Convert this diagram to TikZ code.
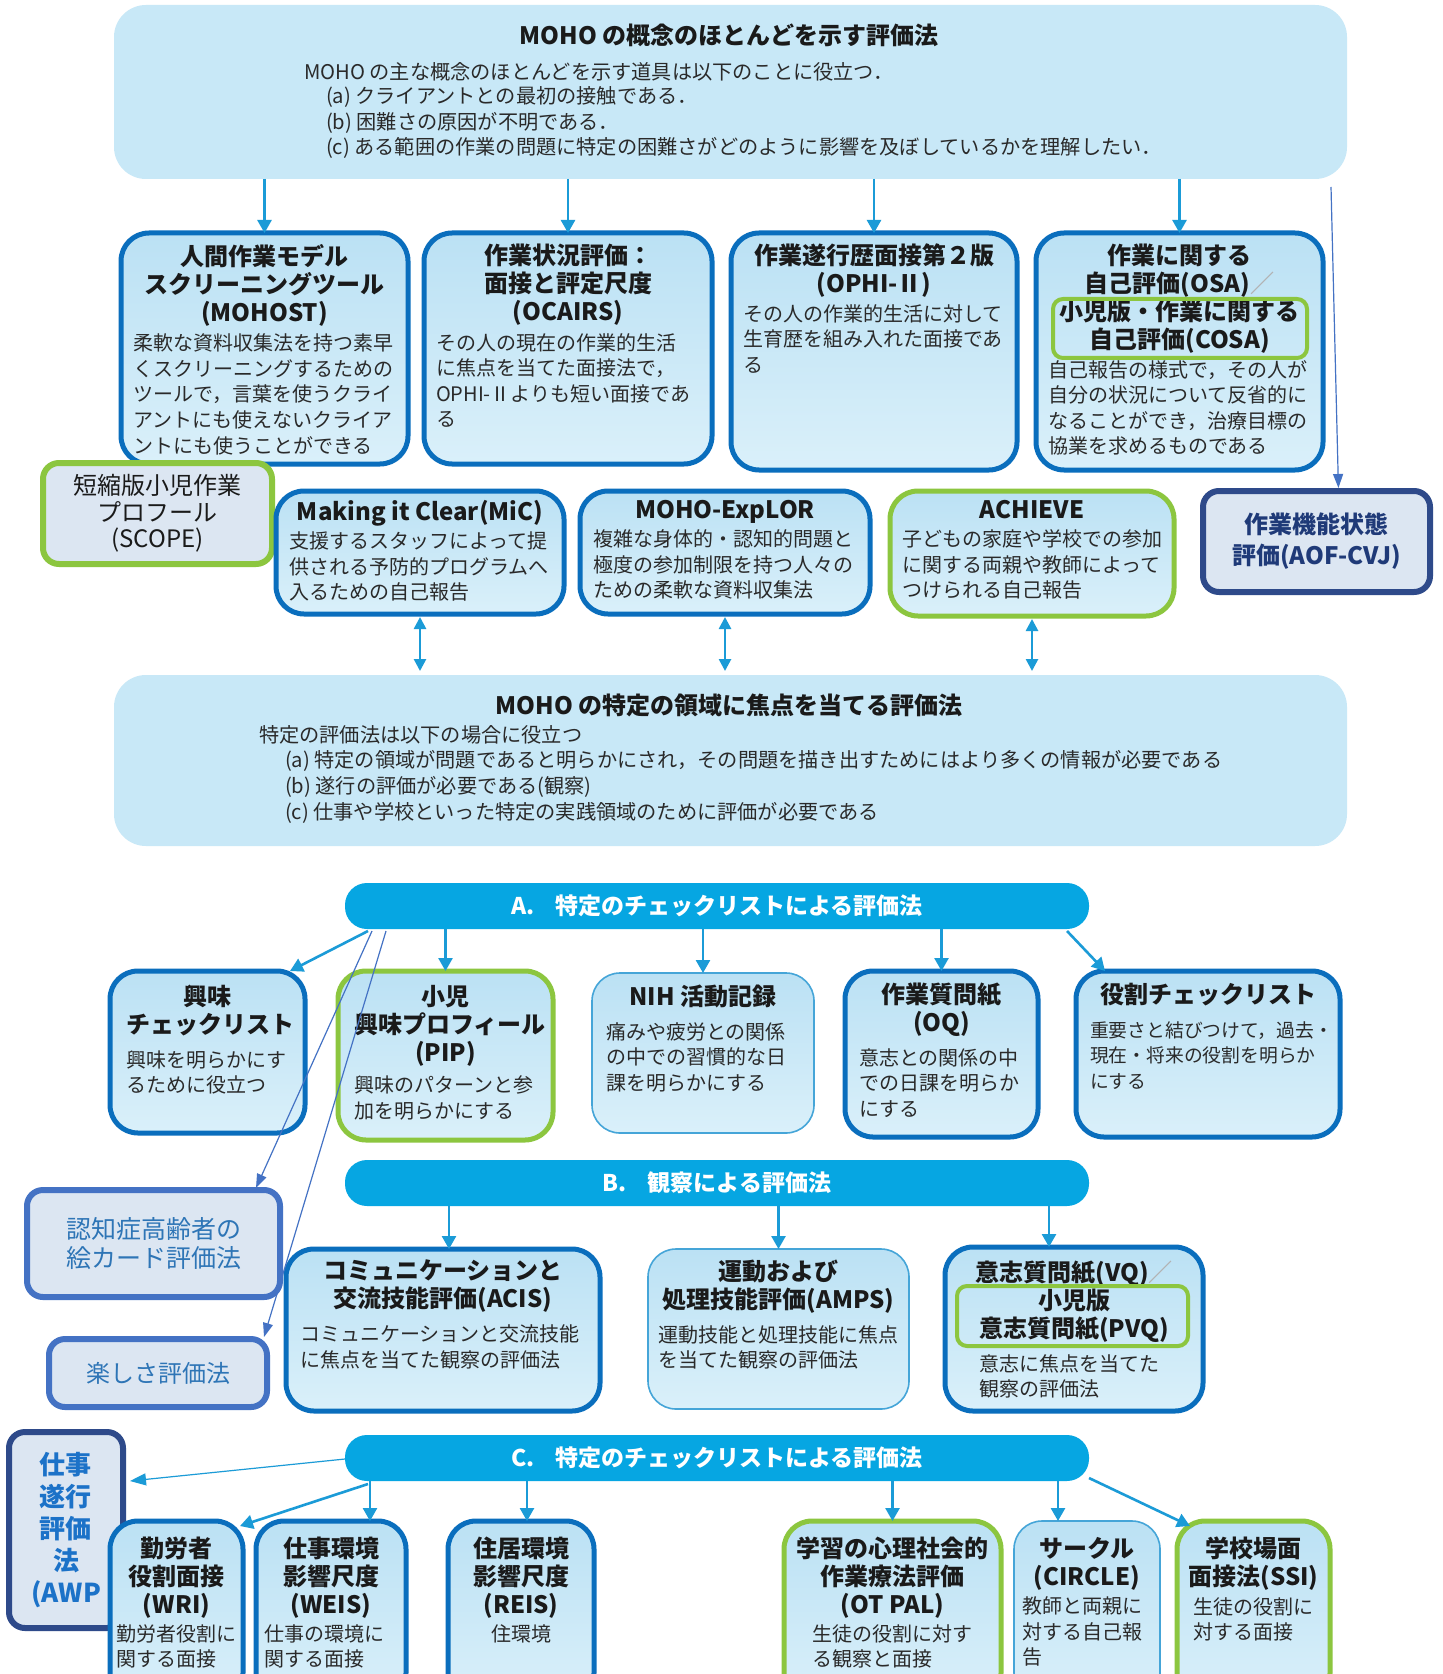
\documentclass[tikz,border=0pt]{standalone}
\usepackage{fontspec}
\setmainfont{Noto Sans CJK JP}
\usetikzlibrary{arrows.meta,calc}
\setlength\parskip{0pt}
\newlength\pxu \setlength\pxu{0.5pt}
\definecolor{boxblue}{HTML}{0A6EBD}
\definecolor{boxgreen}{HTML}{8CC63F}
\definecolor{notefill}{HTML}{DCE6F2}
\definecolor{navy}{HTML}{2E4A8A}
\definecolor{navytxt}{HTML}{1F3A78}
\definecolor{midblue}{HTML}{4472C4}
\definecolor{midtxt}{HTML}{2E75B6}
\definecolor{awptxt}{HTML}{1C72C8}
\definecolor{bigfill}{HTML}{C8E8F7}
\definecolor{bandfill}{HTML}{06A6E2}
\definecolor{arrc}{HTML}{1B9BD7}
\definecolor{boxtop}{HTML}{BBE1F4}
\definecolor{boxbot}{HTML}{DAF0FA}
\definecolor{thinb}{HTML}{45A5D8}
\definecolor{txt}{HTML}{1A1A1A}
\definecolor{btxt}{HTML}{2A2A2A}
\newcommand\cbox[5]{%
\begin{minipage}[t][#2\pxu][t]{#1\pxu}%
\vspace*{#4\pxu}%
\hspace*{#3\pxu}\begin{minipage}[t]{\dimexpr\numexpr#1-2*#3\relax\pxu\relax}#5\end{minipage}%
\end{minipage}}
\newcommand\Ttl[1]{{\centering\fontsize{12}{14}\bfseries\color{txt}#1\par}}
\newcommand\Bdy[2][2pt]{\vspace{#1}{\fontsize{10}{12.8}\selectfont\color{btxt}#2\par}}
\newcommand\bodyfont{\fontsize{10.1}{12}\selectfont}
\newcommand\sla{\textcolor{gray!60}{／}}
\tikzset{
 every node/.style={inner sep=0pt, outer sep=0pt},
 cbx/.style={anchor=north west, top color=boxtop, bottom color=boxbot, rounded corners=14pt},
 bluebx/.style={cbx, draw=boxblue, line width=2.5pt},
 greenbx/.style={cbx, draw=boxgreen, line width=2.5pt},
 thinbx/.style={cbx, draw=thinb, line width=0.8pt},
 note/.style={fill=notefill, rounded corners=8pt, line width=3pt, align=center, text=txt},
 bigbox/.style={fill=bigfill, rounded corners=16pt, anchor=north west},
 band/.style={fill=bandfill, rounded corners=11pt, anchor=north west, text=white, font=\fontsize{11.5}{13}\bfseries, minimum width=744\pxu, minimum height=46\pxu},
 arr/.style={draw=arrc, line width=1.3pt, -{Triangle[width=7pt,length=6.5pt]}},
 darr/.style={draw=arrc, line width=1.3pt, {Triangle[width=6pt,length=6pt]}-{Triangle[width=6pt,length=6pt]}, shorten <=1.5pt, shorten >=2pt},
 thinarr/.style={draw=midblue, line width=0.6pt, -{Triangle[width=5pt,length=7pt]}},
 innergreen/.style={draw=boxgreen, line width=2pt, rounded corners=5pt, anchor=north west},
 toptext/.style={anchor=west, font=\bodyfont, text=btxt},
 headtext/.style={font=\fontsize{12}{14}\bfseries, text=txt},
}
\begin{document}
\begin{tikzpicture}[x=0.5pt,y=-0.5pt]
\useasboundingbox (0,0) rectangle (1443,1674);
\fill[white] (0,0) rectangle (1443,1674);
\clip (0,0) rectangle (1443,1674);

% ---------- top box ----------
\node[bigbox, minimum width=1233\pxu, minimum height=174\pxu] (topbox) at (114,5) {};
\node[headtext] (toptitle) at (729,35) {MOHO の概念のほとんどを示す評価法};
\node[toptext] (top1) at (304,72) {MOHO の主な概念のほとんどを示す道具は以下のことに役立つ．};
\node[toptext] (top2) at (326,97) {(a) クライアントとの最初の接触である．};
\node[toptext] (top3) at (326,123) {(b) 困難さの原因が不明である．};
\node[toptext] (top4) at (326,148) {(c) ある範囲の作業の問題に特定の困難さがどのように影響を及ぼしているかを理解したい．};

% ---------- row 1 ----------
\node[bluebx] (mohost) at (121,233) {\cbox{287}{231}{12}{11}{\Ttl{人間作業モデル\\スクリーニングツール\\(MOHOST)}\Bdy[2pt]{柔軟な資料収集法を持つ素早\\くスクリーニングするための\\ツールで，言葉を使うクライ\\アントにも使えないクライア\\ントにも使うことができる}}};
\node[bluebx] (ocairs) at (424,233) {\cbox{288}{231}{12}{11}{\Ttl{作業状況評価：\\面接と評定尺度\\(OCAIRS)}\Bdy[2pt]{その人の現在の作業的生活\\に焦点を当てた面接法で，\\\mbox{OPHI-Ⅱよりも短い面接であ}\\る}}};
\node[bluebx] (ophi) at (731,233) {\cbox{286}{237}{12}{11}{\Ttl{作業遂行歴面接第２版\\(OPHI-Ⅱ)}\Bdy[1.5pt]{その人の作業的生活に対して\\生育歴を組み入れた面接であ\\る}}};
\node[bluebx] (osa) at (1036,233) {\cbox{287}{237}{12}{11}{\Ttl{作業に関する\\自己評価(OSA)\sla\\小児版・作業に関する\\自己評価(COSA)}\Bdy[1.5pt]{自己報告の様式で，その人が\\自分の状況について反省的に\\なることができ，治療目標の\\協業を求めるものである}}};
\node[innergreen, minimum width=254\pxu, minimum height=59\pxu] (cosa) at (1053,299) {};

% ---------- row 2 ----------
\node[note, draw=boxgreen, minimum width=229\pxu, minimum height=101\pxu, font=\fontsize{12}{13.3}\selectfont] (scope) at (157.5,513.5) {短縮版小児作業\\プロフール\\(SCOPE)};
\node[bluebx] (mic) at (276,491) {\cbox{288}{123}{13}{9}{\Ttl{Making it Clear(MiC)}\Bdy[1.5pt]{支援するスタッフによって提\\供される予防的プログラムへ\\入るための自己報告}}};
\node[bluebx] (explor) at (580,491) {\cbox{290}{123}{13}{9}{\Ttl{MOHO-ExpLOR}\Bdy[1.5pt]{複雑な身体的・認知的問題と\\極度の参加制限を持つ人々の\\ための柔軟な資料収集法}}};
\node[greenbx] (achieve) at (890,491) {\cbox{284}{125}{12}{9}{\Ttl{ACHIEVE}\Bdy[1.5pt]{子どもの家庭や学校での参加\\に関する両親や教師によって\\つけられる自己報告}}};
\node[note, draw=navy, text=navytxt, font=\fontsize{12}{15.5}\bfseries, minimum width=227\pxu, minimum height=101\pxu] (aof) at (1316.5,541.5) {作業機能状態\\評価(AOF-CVJ)};

% ---------- middle box ----------
\node[bigbox, minimum width=1233\pxu, minimum height=171\pxu] (midbox) at (114,675) {};
\node[headtext] (midtitle) at (729,705) {MOHO の特定の領域に焦点を当てる評価法};
\node[toptext] (mid1) at (259,735) {特定の評価法は以下の場合に役立つ};
\node[toptext] (mid2) at (285,761) {(a) 特定の領域が問題であると明らかにされ，その問題を描き出すためにはより多くの情報が必要である};
\node[toptext] (mid3) at (285,787) {(b) 遂行の評価が必要である(観察)};
\node[toptext] (mid4) at (285,813) {(c) 仕事や学校といった特定の実践領域のために評価が必要である};

% ---------- band A ----------
\node[band] (bandA) at (345,883) {A.\hspace{0.9em}特定のチェックリストによる評価法};
\node[bluebx] (kyomi) at (110,971) {\cbox{195}{162}{16}{14}{\Ttl{興味\\チェックリスト}\Bdy[4pt]{興味を明らかにす\\るために役立つ}}};
\node[greenbx] (pip) at (338,971) {\cbox{215}{169}{16}{14}{\Ttl{小児\\興味プロフィール\\(PIP)}\Bdy[3pt]{興味のパターンと参\\加を明らかにする}}};
\node[thinbx] (nih) at (592,973) {\cbox{222}{160}{14}{12}{\Ttl{NIH 活動記録}\Bdy[4pt]{痛みや疲労との関係\\の中での習慣的な日\\課を明らかにする}}};
\node[bluebx] (oq) at (845,971) {\cbox{193}{166}{14}{12}{\Ttl{作業質問紙\\(OQ)}\Bdy[4pt]{意志との関係の中\\での日課を明らか\\にする}}};
\node[bluebx] (role) at (1076,971) {\cbox{264}{166}{14}{12}{\Ttl{役割チェックリスト}\Bdy[4pt]{\fontsize{9.4}{12.8}\selectfont 重要さと結びつけて，過去・\\現在・将来の役割を明らか\\にする}}};

% ---------- band B ----------
\node[band] (bandB) at (345,1160) {B.\hspace{0.9em}観察による評価法};
\node[note, draw=midblue, text=midtxt, font=\fontsize{12.5}{14.5}\selectfont, minimum width=253\pxu, minimum height=107\pxu] (ninchi) at (153.5,1243.5) {認知症高齢者の\\絵カード評価法};
\node[note, draw=midblue, text=midtxt, font=\fontsize{12}{14}\selectfont, minimum width=218\pxu, minimum height=68\pxu] (tanoshi) at (158,1373) {楽しさ評価法};
\node[bluebx] (acis) at (286,1249) {\cbox{314}{162}{14}{11}{\Ttl{コミュニケーションと\\交流技能評価(ACIS)}\Bdy[4pt]{コミュニケーションと交流技能\\に焦点を当てた観察の評価法}}};
\node[thinbx] (amps) at (648,1249) {\cbox{261}{160}{10}{11}{\Ttl{運動および\\処理技能評価(AMPS)}\Bdy[4pt]{運動技能と処理技能に焦点\\を当てた観察の評価法}}};
\node[bluebx] (vq) at (945,1247) {\cbox{258}{164}{12}{14}{\Ttl{意志質問紙(VQ)\sla\\小児版\\意志質問紙(PVQ)}\Bdy[4pt]{\leftskip=11pt 意志に焦点を当てた\\観察の評価法}}};
\node[innergreen, minimum width=231\pxu, minimum height=60\pxu] (pvq) at (957,1286) {};

% ---------- band C ----------
\node[band] (bandC) at (345,1435) {C.\hspace{0.9em}特定のチェックリストによる評価法};
\node[note, draw=navy, text=awptxt, font=\fontsize{13}{16}\bfseries, minimum width=114\pxu, minimum height=196\pxu] (awp) at (66,1530) {仕事\\遂行\\評価\\法\\(AWP};
\node[bluebx] (wri) at (110,1521) {\cbox{133}{180}{6}{16}{\Ttl{勤労者\\役割面接\\(WRI)}\Bdy[1pt]{勤労者役割に\\関する面接}}};
\node[bluebx] (weis) at (256,1521) {\cbox{150}{180}{8}{16}{\Ttl{仕事環境\\影響尺度\\(WEIS)}\Bdy[1pt]{仕事の環境に\\関する面接}}};
\node[bluebx] (reis) at (448,1521) {\cbox{146}{180}{8}{16}{\Ttl{住居環境\\影響尺度\\(REIS)}\Bdy[1pt]{\centering 住環境}}};
\node[greenbx] (otpal) at (784,1521) {\cbox{217}{180}{8}{16}{\Ttl{学習の心理社会的\\作業療法評価\\(OT PAL)}\Bdy[1pt]{\leftskip=10pt 生徒の役割に対す\\る観察と面接}}};
\node[thinbx] (circle) at (1014,1521) {\cbox{146}{180}{8}{16}{\Ttl{サークル\\(CIRCLE)}\Bdy[1.5pt]{教師と両親に\\対する自己報\\告}}};
\node[greenbx] (ssi) at (1177,1521) {\cbox{153}{180}{8}{16}{\Ttl{学校場面\\面接法(SSI)}\Bdy[1.5pt]{\leftskip=4pt 生徒の役割に\\対する面接}}};

% ---------- connectors ----------
\foreach \n in {mohost,ocairs,ophi,osa} \draw[arr] (topbox.south -| \n.north) -- (\n.north);
\coordinate (aofst) at ($(topbox.south east)+(-16,8)$);
\coordinate (aofin) at ($(aof.north)+(22,0)$);
\draw[thinarr, shorten >=1.5pt] (aofst) -- (aofin);
\foreach \n in {mic,explor,achieve} \draw[darr] (\n.south) -- (midbox.north -| \n.south);

\draw[arr] ($(bandA.south west)+(23,2)$) -- ($(kyomi.north east)+(-15,0)$);
\foreach \n in {pip,nih,oq} \draw[arr] (bandA.south -| \n.north) -- (\n.north);
\draw[arr] ($(bandA.south east)+(-22,2)$) -- ($(role.north west)+(29,0)$);
\draw[thinarr] ($(bandA.south west)+(27,2)$) -- ($(ninchi.north east)+(-24,-2)$);
\draw[thinarr] ($(bandA.south west)+(41,2)$) -- ($(tanoshi.north east)+(-3,-2)$);

\coordinate (acisin) at ($(acis.north)+(6,0)$);
\coordinate (vqin) at ($(vq.north)+(-25,0)$);
\draw[arr] (bandB.south -| acisin) -- (acisin);
\draw[arr] (bandB.south -| amps.north) -- (amps.north);
\draw[arr] (bandB.south -| vqin) -- (vqin);

\coordinate (awpin) at ($(awp.east)+(7,-49)$);
\draw[draw=arrc, line width=0.6pt, -{Triangle[width=6pt,length=8pt]}] ($(bandC.west)+(0,1)$) -- (awpin);
\draw[arr] ($(bandC.south west)+(23,3)$) -- ($(wri.north east)+(-3,5)$);
\coordinate (weisin) at ($(weis.north)+(39,0)$);
\coordinate (reisin) at ($(reis.north)+(6,0)$);
\coordinate (circin) at ($(circle.north)+(-29,0)$);
\draw[arr] (bandC.south -| weisin) -- (weisin);
\draw[arr] (bandC.south -| reisin) -- (reisin);
\draw[arr] (bandC.south -| otpal.north) -- (otpal.north);
\draw[arr] (bandC.south -| circin) -- (circin);
\draw[arr] ($(bandC.south east)+(0,-3)$) -- ($(ssi.north west)+(13,5)$);
\end{tikzpicture}
\end{document}
